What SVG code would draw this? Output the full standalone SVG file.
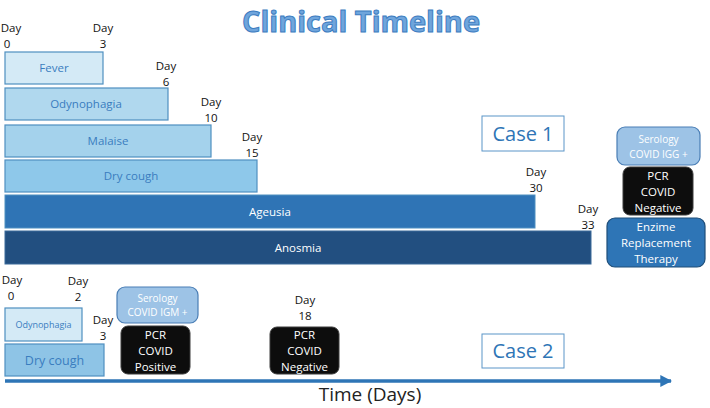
<svg xmlns="http://www.w3.org/2000/svg" width="710" height="408" viewBox="0 0 710 408">
  <defs>
    <style>
      .t { font-family: "Open Sans", "Liberation Sans", sans-serif; text-anchor: middle; }
      .day { font-size: 11.5px; fill: #111; }
      .bar { stroke: #4f8fc0; stroke-width: 1.2; }
      .lbl { font-size: 11.5px; fill: #3a7dbf; }
      .wlbl { font-size: 11.5px; fill: #ffffff; }
      .small { font-size: 10px; }
      .pcr { fill: #0d0d0d; stroke: #3c3c3c; stroke-width: 1; }
      .sero { fill: #9dc3e6; stroke: #4a7eb5; stroke-width: 1.2; }
      .case { fill: #ffffff; stroke: #5b95c8; stroke-width: 1; }
      .caset { font-size: 20px; fill: #2e75b6; }
    </style>
    <marker id="arrow" viewBox="0 0 10 10" refX="9" refY="5" markerWidth="3.4" markerHeight="3.4" orient="auto" markerUnits="strokeWidth">
      <path d="M0,0 L10,5 L0,10 Z" fill="#2e75b6"/>
    </marker>
  </defs>
  <rect width="710" height="408" fill="#ffffff"/>

  <!-- Title -->
  <text class="t" x="361" y="32" font-size="29" font-weight="bold" fill="#6fa5dc" stroke="#3c7cc0" stroke-width="1" font-family="Verdana, 'DejaVu Sans', sans-serif">Clinical Timeline</text>

  <!-- Case 1 symptom bars -->
  <g id="fever">
    <rect class="bar" x="5" y="52" width="98" height="32" fill="#d4eaf6"/>
    <text class="t lbl" x="54" y="72">Fever</text>
  </g>
  <g id="odynophagia1">
    <rect class="bar" x="5" y="88" width="163" height="32" fill="#b0d8ee"/>
    <text class="t lbl" x="86" y="108">Odynophagia</text>
  </g>
  <g id="malaise">
    <rect class="bar" x="5" y="125" width="206" height="32" fill="#a4d2ec"/>
    <text class="t lbl" x="108" y="145">Malaise</text>
  </g>
  <g id="drycough1">
    <rect class="bar" x="5" y="160" width="252" height="32" fill="#8ec8ea"/>
    <text class="t lbl" x="131" y="180">Dry cough</text>
  </g>
  <g id="ageusia">
    <rect x="5" y="195" width="530" height="33" fill="#2f74b5" stroke="#4f8fc0" stroke-width="1"/>
    <text class="t wlbl" x="270" y="216">Ageusia</text>
  </g>
  <g id="anosmia">
    <rect x="5" y="231" width="586" height="33" fill="#224f80" stroke="#3a6a9a" stroke-width="1"/>
    <text class="t wlbl" x="298" y="252">Anosmia</text>
  </g>

  <!-- Case 1 day markers -->
  <g id="days1">
    <text class="t day" x="11" y="32">Day</text>
    <text class="t day" x="7" y="48">0</text>
    <text class="t day" x="103" y="32">Day</text>
    <text class="t day" x="103" y="48">3</text>
    <text class="t day" x="166" y="70">Day</text>
    <text class="t day" x="166" y="86">6</text>
    <text class="t day" x="211" y="106">Day</text>
    <text class="t day" x="211" y="122">10</text>
    <text class="t day" x="252" y="141">Day</text>
    <text class="t day" x="252" y="157">15</text>
    <text class="t day" x="536" y="176">Day</text>
    <text class="t day" x="536" y="192">30</text>
    <text class="t day" x="588" y="213">Day</text>
    <text class="t day" x="588" y="229">33</text>
  </g>

  <g id="case1">
    <rect class="case" x="482" y="116" width="82" height="35"/>
    <text class="t caset" x="523" y="141">Case 1</text>
  </g>

  <g id="serology-igg">
    <rect class="sero" x="617" y="127" width="83" height="38" rx="8"/>
    <text class="t wlbl small" x="658.5" y="143">Serology</text>
    <text class="t wlbl small" x="658.5" y="158">COVID IGG +</text>
  </g>
  <g id="pcr-neg1">
    <rect class="pcr" x="623" y="167" width="70" height="48" rx="7"/>
    <text class="t wlbl" x="658" y="180">PCR</text>
    <text class="t wlbl" x="658" y="196">COVID</text>
    <text class="t wlbl" x="658" y="212">Negative</text>
  </g>
  <g id="enzyme-therapy">
    <rect x="607" y="218" width="98" height="49" rx="8" fill="#2e75b6" stroke="#1f4e79" stroke-width="1.2"/>
    <text class="t wlbl" x="656" y="231">Enzime</text>
    <text class="t wlbl" x="656" y="247">Replacement</text>
    <text class="t wlbl" x="656" y="263">Therapy</text>
  </g>

  <!-- Case 2 -->
  <g id="odynophagia2">
    <rect class="bar" x="5" y="308" width="77" height="33" fill="#d4eaf6"/>
    <text class="t lbl" x="43.5" y="328" style="font-size:9px">Odynophagia</text>
  </g>
  <g id="drycough2">
    <rect class="bar" x="5" y="344" width="99" height="32" fill="#8ec4e6"/>
    <text class="t lbl" x="54.5" y="365" style="font-size:12.5px">Dry cough</text>
  </g>

  <g id="days2">
    <text class="t day" x="12" y="284">Day</text>
    <text class="t day" x="11" y="300">0</text>
    <text class="t day" x="78" y="285">Day</text>
    <text class="t day" x="78" y="301">2</text>
    <text class="t day" x="103" y="324">Day</text>
    <text class="t day" x="103" y="340">3</text>
    <text class="t day" x="305" y="304">Day</text>
    <text class="t day" x="305" y="320">18</text>
  </g>

  <g id="serology-igm">
    <rect class="sero" x="117" y="287" width="81" height="36" rx="8"/>
    <text class="t wlbl small" x="157.5" y="302">Serology</text>
    <text class="t wlbl small" x="157.5" y="316">COVID IGM +</text>
  </g>
  <g id="pcr-pos2">
    <rect class="pcr" x="121" y="326" width="69" height="48" rx="7"/>
    <text class="t wlbl" x="155.5" y="339">PCR</text>
    <text class="t wlbl" x="155.5" y="355">COVID</text>
    <text class="t wlbl" x="155.5" y="371">Positive</text>
  </g>
  <g id="pcr-neg2">
    <rect class="pcr" x="270" y="327" width="69" height="47" rx="7"/>
    <text class="t wlbl" x="304.5" y="339">PCR</text>
    <text class="t wlbl" x="304.5" y="355">COVID</text>
    <text class="t wlbl" x="304.5" y="371">Negative</text>
  </g>

  <g id="case2">
    <rect class="case" x="482" y="334" width="82" height="34"/>
    <text class="t caset" x="523" y="358">Case 2</text>
  </g>

  <!-- Time axis -->
  <g id="connectors">
    <line x1="5" y1="381" x2="671" y2="381" stroke="#2e75b6" stroke-width="3.5" marker-end="url(#arrow)"/>
  </g>
  <text class="t" x="370" y="401" font-size="19" fill="#222">Time (Days)</text>
</svg>
